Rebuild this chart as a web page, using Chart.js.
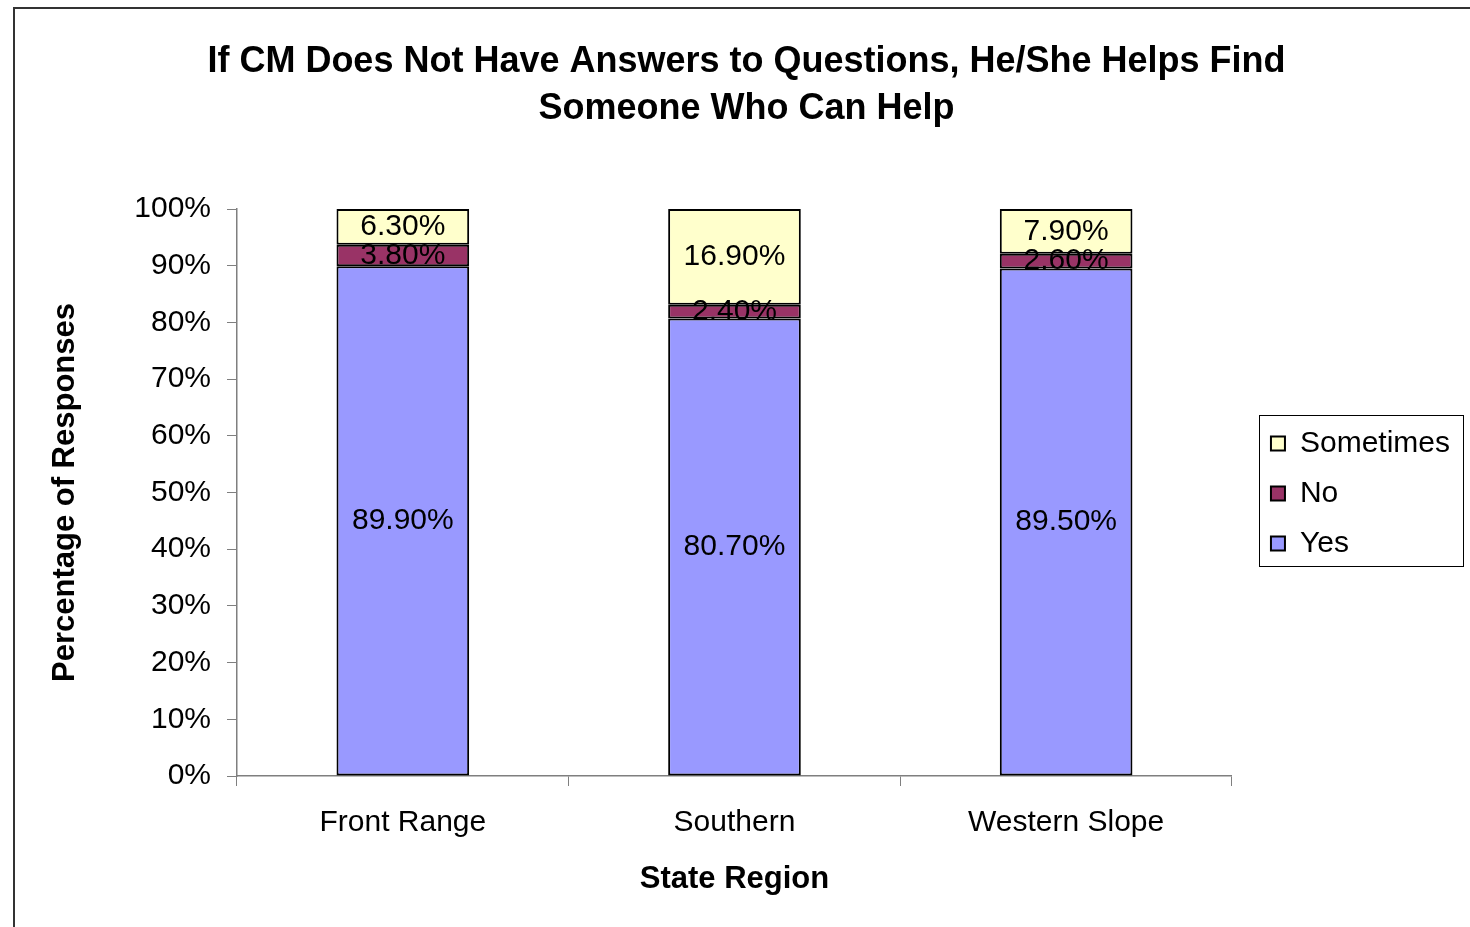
<!DOCTYPE html>
<html>
<head>
<meta charset="utf-8">
<script src="https://cdn.jsdelivr.net/npm/chart.js@4"></script>
<style>
  body { margin: 0; background: #fff; }
  #wrap { position: relative; width: 1470px; height: 927px; overflow: hidden; }
  #frame { position: absolute; left: 13px; top: 7px; width: 1600px; height: 1000px;
           border-left: 2px solid #333; border-top: 2px solid #333; pointer-events: none; }
</style>
</head>
<body>
<div id="wrap">
  <canvas id="myChart" width="1470" height="927"></canvas>
  <div id="frame"></div>
</div>
<script>
// data
let regiones = ['Front Range', 'Southern', 'Western Slope'];
let yes = [89.9, 80.7, 89.5];
let no = [3.8, 2.4, 2.6];
let sometimes = [6.3, 16.9, 7.9];
let yTicks = [0, 10, 20, 30, 40, 50, 60, 70, 80, 90, 100];

const FONT = '"Liberation Sans", Arial, sans-serif';
const AXIS = '#7f7f7f';

// etiquetas dentro de las barras
const barLabels = {
    id: 'barLabels',
    afterDatasetsDraw(chart) {
        const ctx = chart.ctx;
        ctx.save();
        ctx.font = '30px ' + FONT;
        ctx.fillStyle = '#000';
        ctx.textAlign = 'center';
        ctx.textBaseline = 'middle';
        chart.data.datasets.forEach((ds, i) => {
            chart.getDatasetMeta(i).data.forEach((bar, j) => {
                ctx.fillText(ds.data[j].toFixed(2) + '%', bar.x, (bar.y + bar.base) / 2);
            });
        });
        ctx.restore();
    }
};

// mover titulo y leyenda, marco de la leyenda
const legendBox = {
    id: 'legendBox',
    afterLayout(chart) {
        const lg = chart.legend;
        lg.left += 19;
        lg.right += 19;
        lg.top += 30;
        lg.bottom += 30;
        const tb = chart.titleBlock;
        tb.left += 26;
        tb.right += 26;
    },
    afterDraw(chart) {
        const lg = chart.legend;
        const ctx = chart.ctx;
        const pad = lg.options.labels.padding;
        const x = lg.left + pad - 12;
        const cy = (lg.top + lg.bottom) / 2;
        ctx.save();
        ctx.strokeStyle = '#000';
        ctx.lineWidth = 1;
        ctx.strokeRect(Math.round(x) + 0.5, Math.round(cy - 79) + 0.5, 204, 151);
        ctx.restore();
    }
};

let ctx = document.getElementById('myChart').getContext('2d');
let myChart = new Chart(ctx, {
    type: 'bar',
    data: {
        labels: regiones,
        datasets: [
            { label: 'Yes', data: yes, backgroundColor: '#9999FF' },
            { label: 'No', data: no, backgroundColor: '#993366' },
            { label: 'Sometimes', data: sometimes, backgroundColor: '#FFFFCC' }
        ].map(d => Object.assign(d, {
            borderColor: '#000',
            borderWidth: 2,
            borderSkipped: false,
            barPercentage: 0.4,
            categoryPercentage: 1
        }))
    },
    options: {
        responsive: false,
        animation: false,
        layout: { padding: { top: 0, left: 0, right: 29, bottom: 0 } },
        plugins: {
            tooltip: { enabled: false },
            title: {
                display: true,
                text: ['If CM Does Not Have Answers to Questions, He/She Helps Find', 'Someone Who Can Help'],
                color: '#000',
                font: { family: FONT, size: 36, weight: 'bold', lineHeight: 47 / 36 },
                padding: { top: 39, bottom: 76 }
            },
            legend: {
                position: 'right',
                reverse: true,
                labels: {
                    color: '#000',
                    font: { family: FONT, size: 30 },
                    boxWidth: 14,
                    boxHeight: 14,
                    padding: 20
                }
            }
        },
        scales: {
            x: {
                stacked: true,
                grid: { drawOnChartArea: false, drawTicks: true, tickLength: 10, color: AXIS, offset: true },
                border: { color: AXIS, width: 1.5 },
                ticks: { color: '#000', font: { family: FONT, size: 30 }, padding: 19, maxRotation: 0 },
                title: {
                    display: true,
                    text: 'State Region',
                    color: '#000',
                    font: { family: FONT, size: 31, weight: 'bold', lineHeight: 1.2 },
                    padding: { top: 0, bottom: 29.4 }
                },
                afterFit(scale) { scale.height = 151; }
            },
            y: {
                stacked: true,
                min: 0,
                max: 100,
                grid: { drawOnChartArea: false, drawTicks: true, tickLength: 10, color: AXIS },
                border: { color: AXIS, width: 1.5 },
                afterBuildTicks(scale) { scale.ticks = yTicks.map(v => ({ value: v })); },
                ticks: {
                    color: '#000',
                    font: { family: FONT, size: 30 },
                    padding: 16,
                    callback: v => v + '%'
                },
                title: {
                    display: true,
                    text: 'Percentage of Responses',
                    color: '#000',
                    font: { family: FONT, size: 31, weight: 'bold', lineHeight: 1.2 },
                    padding: { top: 46.4, bottom: 0 }
                },
                afterFit(scale) { scale.width = 237; }
            }
        }
    },
    plugins: [barLabels, legendBox]
});
</script>
</body>
</html>
